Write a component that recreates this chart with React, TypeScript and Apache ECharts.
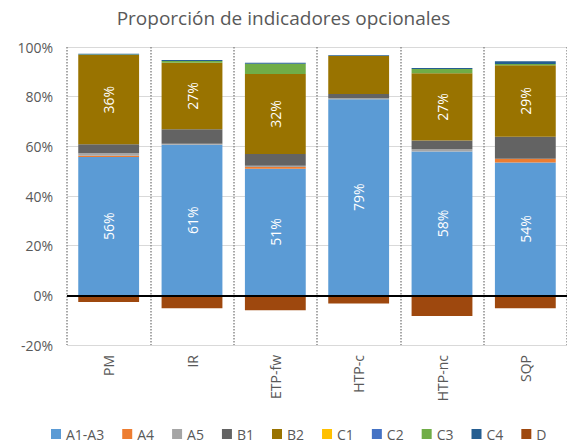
import React, { useEffect, useRef } from "react";
import * as echarts from "echarts";

const categories = ["PM", "IR", "ETP-fw", "HTP-c", "HTP-nc", "SQP"];
const seriesNames = ["A1-A3", "A4", "A5", "B1", "B2", "C1", "C2", "C3", "C4", "D"];
const a1a3 = [55.7, 60.6, 51.0, 79.0, 57.9, 53.5];
const a4 = [0.5, 0, 0.7, 0, 0, 1.5];
const a5 = [1.0, 0.4, 0.5, 0.5, 0.9, 0];
const b1 = [3.6, 5.9, 4.7, 1.6, 3.5, 8.9];
const b2 = [36.0, 26.8, 32.2, 15.3, 27.1, 28.8];
const c1 = [0, 0, 0, 0, 0, 0];
const c2 = [0, 0, 0, 0, 0, 0];
const c3 = [0.2, 0.7, 4.2, 0, 1.7, 0.5];
const c4 = [0.3, 0.4, 0.4, 0.3, 0.4, 1.1];
const d = [-2.7, -5.2, -6.0, -3.3, -8.3, -5.2];
const yTicks = { min: -20, max: 100, interval: 20 };
// which bars show a data label (per series)
const showLabelA1A3 = [true, true, true, true, true, true];
const showLabelB2 = [true, true, true, false, true, true];

const seriesData = [a1a3, a4, a5, b1, b2, c1, c2, c3, c4, d];
const colors = ["#5B9BD5", "#ED7D31", "#A5A5A5", "#636363", "#997300", "#FFC000", "#4472C4", "#70AD47", "#255E91", "#9E480E"];
const labelFlags: Record<string, boolean[]> = { "A1-A3": showLabelA1A3, B2: showLabelB2 };

const FONT = "Open Sans";

export default function App() {
  const ref = useRef<HTMLDivElement>(null);
  useEffect(() => {
    if (!ref.current) return;
    const chart = echarts.init(ref.current, null, { renderer: "svg" });
    const series: any[] = seriesNames.map((name, i) => {
      const flags = labelFlags[name];
      return {
        name,
        type: "bar",
        stack: "total",
        barCategoryGap: "27%",
        data: seriesData[i].map((v, j) => ({
          value: v,
          label: { show: flags ? flags[j] : false },
        })),
        itemStyle: { color: colors[i] },
        label: {
          show: !!flags,
          position: "inside",
          rotate: 90,
          color: "#FFFFFF",
          fontSize: 14,
          fontFamily: FONT,
          formatter: (p: any) => Math.round(p.value) + "%",
        },
      };
    });
    series[series.length - 1].markLine = {
      silent: true,
      symbol: "none",
      label: { show: false },
      lineStyle: { color: "#000000", width: 2, type: "solid" },
      data: [{ yAxis: 0 }],
    };
    chart.setOption({
      animation: false,
      textStyle: { fontFamily: FONT },
      title: {
        text: "Proporción de indicadores opcionales",
        left: "center",
        top: 3,
        textStyle: { fontSize: 19, fontWeight: "normal", color: "#595959", fontFamily: FONT },
      },
      legend: {
        bottom: 2,
        left: 46,
        icon: "rect",
        itemWidth: 10,
        itemHeight: 10,
        itemGap: 18,
        data: seriesNames,
        textStyle: { fontSize: 14, color: "#595959", fontFamily: FONT },
      },
      grid: { left: 67, right: 0, top: 47, bottom: 103, containLabel: false },
      xAxis: {
        type: "category",
        data: categories,
        axisLine: { show: false, onZero: false },
        axisTick: { show: false },
        splitLine: { show: true, lineStyle: { type: "dotted", color: "#8C8C8C", width: 1.5 } },
        axisLabel: { rotate: 90, color: "#595959", fontSize: 14, margin: 10, fontFamily: FONT },
      },
      yAxis: {
        type: "value",
        min: yTicks.min,
        max: yTicks.max,
        interval: yTicks.interval,
        axisLine: { show: false },
        axisTick: { show: false },
        splitLine: { lineStyle: { color: "#D9D9D9", width: 1 } },
        axisLabel: { formatter: "{value}%", color: "#595959", fontSize: 14, margin: 14, fontFamily: FONT },
      },
      series,
    });
    return () => chart.dispose();
  }, []);
  return <div ref={ref} style={{ position: "fixed", left: 0, top: 0, width: 567, height: 448, background: "#fff" }} />;
}
